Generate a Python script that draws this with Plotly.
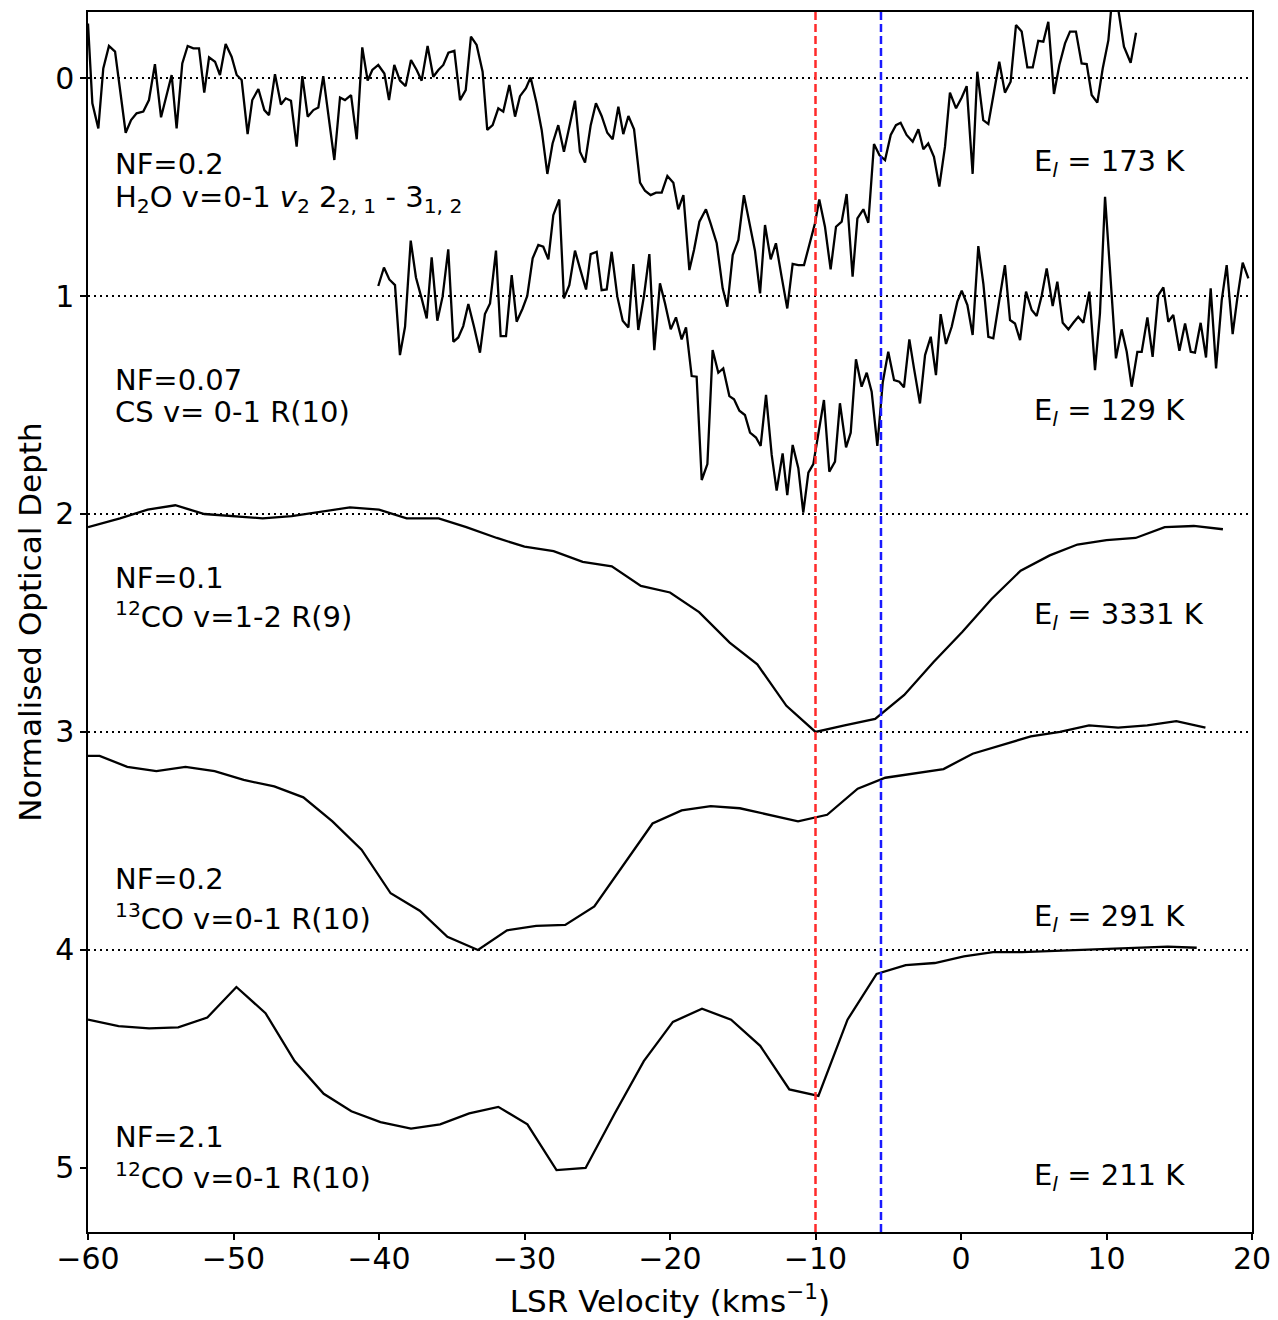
import plotly.graph_objects as go

# ---- H2O v=0-1 nu2 2(2,1)-3(1,2) (normalised optical depth, NF=0.2) ----
h2o_vel = [-60.00, -59.70, -59.29, -58.95, -58.56, -58.14, -57.41, -57.04, -56.66, -56.20,
           -55.81, -55.40, -54.98, -54.59, -54.25, -53.91, -53.52, -53.15, -52.76, -52.37,
           -52.01, -51.68, -51.27, -50.93, -50.54, -50.13, -49.78, -49.44, -49.03, -48.71,
           -48.29, -47.88, -47.56, -47.15, -46.74, -46.41, -46.05, -45.66, -45.27, -44.90,
           -44.51, -44.17, -43.83, -43.07, -42.68, -42.34, -41.92, -41.53, -41.15, -40.78,
           -40.46, -40.05, -39.63, -39.31, -38.95, -38.56, -38.17, -37.80, -37.41, -37.07,
           -36.66, -36.27, -35.92, -35.58, -35.23, -34.82, -34.43, -34.04, -33.68, -33.29,
           -32.88, -32.56, -32.19, -31.80, -31.46, -31.04, -30.65, -30.31, -29.90, -29.58,
           -29.17, -28.82, -28.43, -28.07, -27.68, -27.29, -26.92, -26.53, -26.19, -25.84,
           -25.45, -25.09, -24.70, -24.31, -23.94, -23.55, -23.21, -22.86, -22.47, -22.06,
           -21.72, -21.33, -20.96, -20.57, -20.18, -19.77, -19.43, -19.08, -18.67, -18.35,
           -17.98, -17.53, -17.21, -16.79, -16.38, -16.06, -15.69, -15.30, -14.92, -14.55,
           -14.16, -13.81, -13.47, -13.08, -12.72, -12.33, -11.94, -11.57, -11.18, -10.79,
           -10.43, -10.04, -9.74, -9.35, -8.96, -8.59, -8.20, -7.86, -7.45, -7.12,
           -6.71, -6.37, -5.98, -5.61, -5.22, -4.83, -4.47, -4.15, -3.74, -3.32,
           -2.93, -2.59, -2.25, -1.86, -1.49, -1.10, -0.76, -0.34, 0.05, 0.39,
           0.80, 1.12, 1.53, 1.88, 2.27, 2.63, 3.02, 3.41, 3.78, 4.17,
           4.56, 4.93, 5.31, 5.66, 6.00, 6.39, 6.76, 7.15, 7.49, 7.90,
           8.29, 8.64, 8.98, 9.37, 9.74, 10.13, 10.50, 11.20, 11.66, 12.03]
h2o_depth = [-0.250, 0.116, 0.231, -0.044, -0.147, -0.121, 0.251, 0.193, 0.162, 0.154,
             0.101, -0.064, 0.180, 0.070, -0.014, 0.231, -0.067, -0.147, -0.136, -0.136,
             0.067, -0.095, -0.075, -0.014, -0.156, -0.098, -0.014, 0.009, 0.257, 0.101,
             0.050, 0.147, 0.170, -0.018, 0.121, 0.093, 0.104, 0.315, -0.009, 0.177,
             0.147, 0.135, -0.009, 0.376, 0.089, 0.101, 0.078, 0.281, -0.141, 0.012,
             -0.037, -0.060, -0.021, 0.101, -0.060, 0.012, 0.037, -0.083, -0.037, 0.012,
             -0.147, -0.006, -0.037, -0.060, -0.116, -0.125, 0.101, 0.055, -0.190, -0.152,
             -0.029, 0.238, 0.216, 0.139, 0.154, 0.032, 0.177, 0.083, 0.047, -0.003,
             0.116, 0.238, 0.440, 0.300, 0.216, 0.338, 0.223, 0.104, 0.338, 0.388,
             0.216, 0.116, 0.174, 0.251, 0.281, 0.131, 0.257, 0.174, 0.235, 0.480,
             0.517, 0.537, 0.526, 0.526, 0.449, 0.480, 0.602, 0.537, 0.881, 0.789,
             0.659, 0.602, 0.667, 0.758, 0.965, 1.049, 0.812, 0.743, 0.537, 0.667,
             0.792, 0.988, 0.674, 0.832, 0.758, 0.911, 1.057, 0.853, 0.858, 0.858,
             0.766, 0.667, 0.557, 0.682, 0.878, 0.682, 0.659, 0.532, 0.911, 0.644,
             0.602, 0.664, 0.303, 0.353, 0.376, 0.261, 0.216, 0.205, 0.261, 0.292,
             0.235, 0.327, 0.300, 0.361, 0.498, 0.315, 0.067, 0.139, 0.089, 0.037,
             0.440, -0.029, 0.193, 0.211, 0.063, -0.075, 0.067, 0.017, -0.243, -0.213,
             -0.049, -0.049, -0.171, -0.167, -0.258, 0.073, -0.060, -0.159, -0.213, -0.213,
             -0.067, -0.064, 0.078, 0.113, -0.044, -0.174, -0.450, -0.144, -0.070, -0.208]

# ---- CS v=0-1 R(10) (NF=0.07) ----
cs_vel = [-40.05, -39.66, -39.29, -38.90, -38.56, -38.21, -37.82, -37.46, -37.07, -36.72,
          -36.38, -35.99, -35.63, -35.24, -34.89, -34.55, -34.21, -33.86, -33.47, -33.06,
          -32.72, -32.37, -31.96, -31.64, -31.27, -30.88, -30.54, -30.13, -29.81, -29.44,
          -29.05, -28.71, -28.36, -28.02, -27.61, -27.29, -26.92, -26.53, -26.19, -25.77,
          -25.45, -25.04, -24.70, -24.35, -24.01, -23.62, -23.25, -22.86, -22.52, -22.18,
          -21.79, -21.42, -21.08, -20.69, -20.34, -19.95, -19.59, -19.20, -18.90, -18.51,
          -18.17, -17.82, -17.43, -17.07, -16.68, -16.34, -15.92, -15.60, -15.23, -14.85,
          -14.50, -14.09, -13.77, -13.40, -13.01, -12.67, -12.26, -11.94, -11.57, -11.18,
          -10.84, -10.49, -10.15, -9.80, -9.42, -9.05, -8.66, -8.32, -7.90, -7.58,
          -7.22, -6.83, -6.48, -6.14, -5.75, -5.38, -5.00, -4.60, -4.24, -3.92,
          -3.55, -3.23, -2.82, -2.47, -2.08, -1.72, -1.40, -1.03, -0.64, -0.25,
          0.05, 0.44, 0.80, 1.19, 1.54, 1.88, 2.22, 2.64, 3.02, 3.37,
          3.71, 4.06, 4.47, 4.86, 5.20, 5.54, 5.89, 6.30, 6.62, 6.99,
          7.38, 7.72, 8.06, 8.41, 8.82, 9.21, 9.55, 9.90, 10.24, 10.65,
          11.04, 11.39, 11.73, 12.12, 12.42, 12.81, 13.17, 13.56, 13.91, 14.25,
          14.59, 15.01, 15.40, 15.79, 16.08, 16.47, 16.84, 17.16, 17.53, 17.92,
          18.26, 18.67, 18.99, 19.36, 19.75]
cs_depth = [-0.046, -0.131, -0.076, -0.050, 0.271, 0.141, -0.254, -0.085, 0.011, 0.103,
            -0.177, 0.113, 0.003, -0.214, 0.210, 0.190, 0.138, 0.037, 0.141, 0.260,
            0.083, 0.034, -0.208, 0.184, 0.184, -0.096, 0.118, 0.057, 0.000, -0.173,
            -0.234, -0.226, -0.168, -0.371, -0.443, 0.011, -0.050, -0.208, -0.127, -0.030,
            -0.192, -0.203, -0.027, -0.030, -0.203, 0.003, 0.113, 0.144, -0.147, 0.156,
            0.000, -0.192, 0.248, -0.058, 0.034, 0.153, 0.098, 0.199, 0.144, 0.367,
            0.370, 0.844, 0.771, 0.248, 0.352, 0.332, 0.459, 0.474, 0.526, 0.546,
            0.627, 0.649, 0.688, 0.454, 0.729, 0.893, 0.722, 0.913, 0.683, 0.790,
            0.994, 0.810, 0.771, 0.630, 0.477, 0.806, 0.760, 0.492, 0.694, 0.627,
            0.290, 0.416, 0.352, 0.439, 0.688, 0.397, 0.256, 0.386, 0.393, 0.419,
            0.199, 0.332, 0.493, 0.271, 0.187, 0.363, 0.083, 0.220, 0.141, 0.026,
            -0.024, 0.042, 0.179, -0.229, -0.055, 0.187, 0.194, 0.016, -0.142, 0.110,
            0.126, 0.202, -0.020, 0.064, 0.092, 0.000, -0.127, 0.046, -0.066, 0.123,
            0.153, 0.123, 0.095, 0.123, -0.020, 0.340, 0.080, -0.455, -0.119, 0.286,
            0.153, 0.256, 0.416, 0.256, 0.256, 0.098, 0.279, -0.004, -0.040, 0.118,
            0.087, 0.251, 0.126, 0.256, 0.260, 0.123, 0.282, -0.035, 0.332, 0.019,
            -0.142, 0.175, 0.011, -0.153, -0.081]

# ---- 12CO v=1-2 R(9) (NF=0.1) ----
co12_hot_vel = [-60.0, -57.8, -55.9, -54.0, -52.0, -48.0, -46.0, -44.1, -42.0, -40.0,
                -38.1, -35.9, -34.0, -31.9, -30.0, -28.0, -26.0, -24.0, -22.0, -20.0,
                -18.0, -15.9, -14.0, -12.0, -10.0, -8.0, -5.9, -3.9, -1.9, 0.1,
                2.1, 4.1, 6.1, 8.0, 10.0, 12.0, 14.0, 16.0, 18.0]
co12_hot_depth = [0.06, 0.02, -0.02, -0.04, 0.00, 0.02, 0.01, -0.01, -0.03, -0.02,
                  0.02, 0.02, 0.06, 0.11, 0.15, 0.17, 0.22, 0.24, 0.33, 0.36,
                  0.45, 0.59, 0.69, 0.88, 1.00, 0.97, 0.94, 0.83, 0.68, 0.54,
                  0.39, 0.26, 0.19, 0.14, 0.12, 0.11, 0.06, 0.055, 0.07]

# ---- 13CO v=0-1 R(10) (NF=0.2) ----
co13_vel = [-60.0, -59.2, -57.3, -55.3, -53.3, -51.3, -49.3, -47.2, -45.2, -43.2,
            -41.2, -39.2, -37.2, -35.3, -33.2, -31.2, -29.2, -27.2, -25.2, -23.2,
            -21.2, -19.2, -17.2, -15.2, -13.2, -11.2, -9.2, -7.1, -5.2, -3.2,
            -1.2, 0.8, 2.8, 4.8, 6.8, 8.8, 10.8, 12.8, 14.8, 16.8]
co13_depth = [0.11, 0.11, 0.16, 0.18, 0.16, 0.18, 0.22, 0.25, 0.30, 0.41,
              0.54, 0.74, 0.82, 0.94, 1.00, 0.91, 0.89, 0.885, 0.80, 0.61,
              0.42, 0.36, 0.34, 0.35, 0.38, 0.41, 0.38, 0.26, 0.21, 0.19,
              0.17, 0.10, 0.06, 0.02, 0.00, -0.03, -0.02, -0.03, -0.05, -0.02]

# ---- 12CO v=0-1 R(10) (NF=2.1) ----
co12_vel = [-60.0, -57.9, -55.8, -53.8, -51.8, -49.8, -47.8, -45.8, -43.8, -41.9,
            -39.9, -37.8, -35.8, -33.8, -31.8, -29.8, -27.8, -25.8, -23.8, -21.8,
            -19.8, -17.8, -15.8, -13.8, -11.8, -9.8, -7.8, -5.8, -3.8, -1.8,
            0.2, 2.2, 4.2, 6.2, 8.2, 10.2, 12.2, 14.2, 16.2]
co12_depth = [0.32, 0.35, 0.36, 0.355, 0.31, 0.17, 0.29, 0.51, 0.66, 0.74,
              0.79, 0.82, 0.80, 0.75, 0.72, 0.80, 1.01, 1.00, 0.75, 0.51,
              0.33, 0.27, 0.32, 0.44, 0.64, 0.67, 0.32, 0.11, 0.07, 0.06,
              0.03, 0.01, 0.01, 0.005, 0.00, -0.005, -0.01, -0.015, -0.01]

nf_labels = ["NF=0.2", "NF=0.07", "NF=0.1", "NF=0.2", "NF=2.1"]
line_labels = [
    "H<sub>2</sub>O v=0-1 <i>v</i><sub>2</sub> 2<sub>2, 1</sub> - 3<sub>1, 2</sub>",
    "CS v= 0-1 R(10)",
    "<sup>12</sup>CO v=1-2 R(9)",
    "<sup>13</sup>CO v=0-1 R(10)",
    "<sup>12</sup>CO v=0-1 R(10)",
]
energy_labels = ["173 K", "129 K", "3331 K", "291 K", "211 K"]

v_red = -10.0
v_blue = -5.5

spectra = [
    (h2o_vel, h2o_depth),
    (cs_vel, cs_depth),
    (co12_hot_vel, co12_hot_depth),
    (co13_vel, co13_depth),
    (co12_vel, co12_depth),
]

FONT = "DejaVu Sans"
fig = go.Figure()

# each spectrum is stacked one unit below the previous one
for offset, (vel, depth) in enumerate(spectra):
    fig.add_trace(go.Scatter(
        x=vel, y=[d + offset for d in depth], mode="lines",
        line=dict(color="black", width=2.3), showlegend=False, cliponaxis=True,
    ))

# dotted zero-depth baselines
for offset in range(len(spectra)):
    fig.add_shape(type="line", xref="x", yref="y", x0=-60, x1=20, y0=offset, y1=offset,
                  line=dict(color="black", width=2, dash="2px,4px"))

# reference velocities
for v, col in [(v_red, "#ff2a2a"), (v_blue, "#1a1aff")]:
    fig.add_shape(type="line", xref="x", yref="paper", x0=v, x1=v, y0=0, y1=1,
                  line=dict(color=col, width=2.5, dash="8px,4px"))

# label positions (in depth units) for the two-line descriptions and energies
nf_y = [0.394, 1.385, 2.294, 3.674, 4.858]
name_y = [0.555, 1.532, 2.462, 3.847, 5.035]
el_y = [0.39, 1.532, 2.468, 3.853, 5.041]
label_x = -58.25
el_x = 4.9

for i in range(len(spectra)):
    fig.add_annotation(x=label_x, y=nf_y[i], xref="x", yref="y", text=nf_labels[i],
                       showarrow=False, xanchor="left", yanchor="middle",
                       font=dict(family=FONT, size=29, color="black"))
    fig.add_annotation(x=label_x, y=name_y[i], xref="x", yref="y", text=line_labels[i],
                       showarrow=False, xanchor="left", yanchor="middle",
                       font=dict(family=FONT, size=29, color="black"))
    fig.add_annotation(x=el_x, y=el_y[i], xref="x", yref="y",
                       text="E<sub><i>l</i></sub> = " + energy_labels[i],
                       showarrow=False, xanchor="left", yanchor="middle",
                       font=dict(family=FONT, size=29, color="black"))

fig.update_layout(
    width=1278, height=1320,
    margin=dict(l=88, r=26, t=12, b=88),
    paper_bgcolor="white", plot_bgcolor="white",
    font=dict(family=FONT, size=29, color="black"),
    showlegend=False,
)
fig.update_xaxes(
    range=[-60, 20], tickvals=[-60, -50, -40, -30, -20, -10, 0, 10, 20],
    showgrid=False, zeroline=False, showline=True, linecolor="black", linewidth=1.5,
    mirror=True, ticks="outside", ticklen=6, tickwidth=1.5, tickcolor="black",
    tickfont=dict(family=FONT, size=30), automargin=False, ticklabelstandoff=-7,
    title=dict(text="LSR Velocity (kms<sup>−1</sup>)", font=dict(family=FONT, size=31), standoff=16),
)
fig.update_yaxes(
    range=[5.294, -0.303], tickvals=[0, 1, 2, 3, 4, 5],
    showgrid=False, zeroline=False, showline=True, linecolor="black", linewidth=1.5,
    mirror=True, ticks="outside", ticklen=6, tickwidth=1.5, tickcolor="black",
    tickfont=dict(family=FONT, size=30), automargin=False,
    title=dict(text="Normalised Optical Depth", font=dict(family=FONT, size=31), standoff=4),
)

fig.write_html("out.html")
